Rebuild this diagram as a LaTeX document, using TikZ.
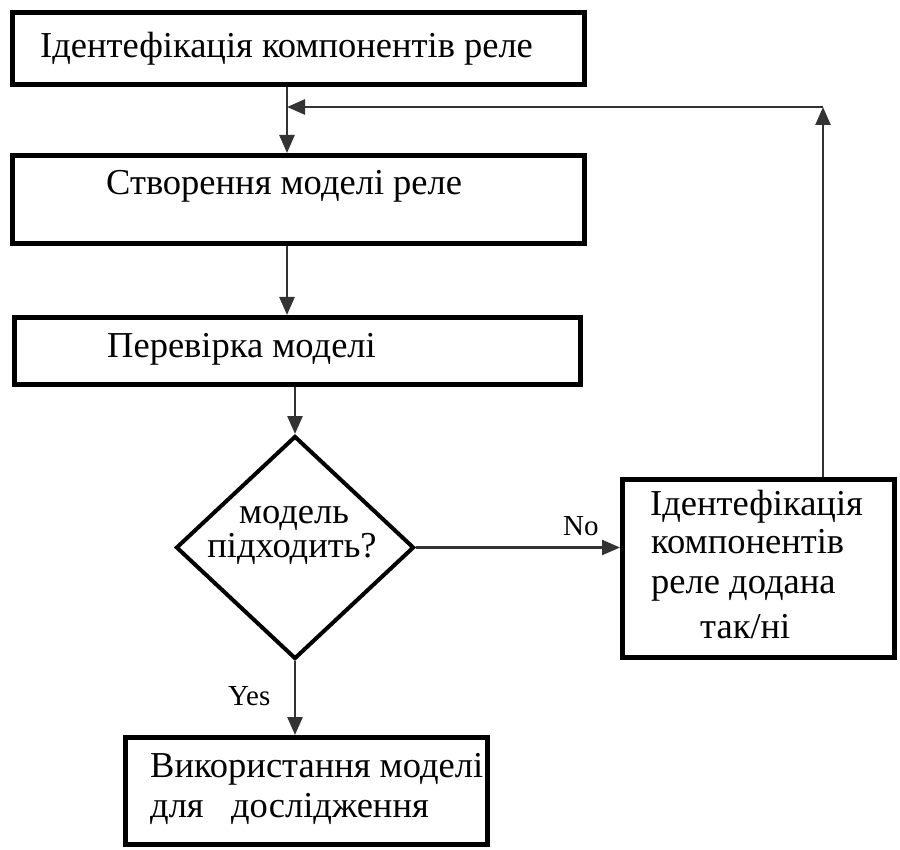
\documentclass[tikz,border=0pt]{standalone}
\usepackage{fontspec}
\setmainfont{Liberation Serif}
\usetikzlibrary{shapes.geometric,arrows.meta}
\tikzset{
  box/.style={draw=black, line width=5pt, rectangle, inner sep=0pt},
  dia/.style={draw=black, line width=4pt, diamond, inner sep=0pt},
  txt/.style={inner sep=0pt, anchor=base west, font=\fontsize{36.5}{40}\selectfont},
  lbl/.style={inner sep=0pt, anchor=base west, font=\fontsize{29}{32}\selectfont},
  conn/.style={draw=black!80, line width=2.5pt},
  arr/.style={conn, -{Triangle[length=18pt,width=15pt]}}
}
\begin{document}
\begin{tikzpicture}[x=1pt,y=-1pt]
\useasboundingbox (0,0) rectangle (900,850);
% boxes
\node[box, minimum width=572, minimum height=72] (b1) at (298.5,48.5) {};
\node[box, minimum width=572, minimum height=88] (b2) at (298.5,199.5) {};
\node[box, minimum width=566, minimum height=67] (b3) at (297.5,351) {};
\node[dia, minimum width=238, minimum height=223] (d) at (295,547.5) {};
\node[box, minimum width=272, minimum height=178] (b5) at (758.5,568.5) {};
\node[box, minimum width=362, minimum height=107] (b6) at (306.5,791) {};
% texts
\node[txt] (t1) at (40,58) {Ідентефікація компонентів реле};
\node[txt] (t2) at (106,195) {Створення моделі реле};
\node[txt] (t3) at (107,358) {Перевірка моделі};
\node[txt, anchor=base] (t4a) at (294,523) {модель};
\node[txt, anchor=base] (t4b) at (292,557) {підходить?};
\node[txt] (t5a) at (650,515) {Ідентефікація};
\node[txt] (t5b) at (651,553) {компонентів};
\node[txt] (t5c) at (651,593) {реле додана};
\node[txt] (t5d) at (700,638) {так/ні};
\node[txt] (t6a) at (150,777) {Використання моделі};
\node[txt] (t6b) at (150,817) {для\hspace{0.75em}дослідження};
\node[lbl] (no) at (563,535) {No};
\node[lbl] (yes) at (228,705) {Yes};
% connectors
\coordinate (j1) at (287,107);
\coordinate (c1) at (823,107);
\draw[conn] (b1.south -| j1) -- (j1);
\draw[arr] (j1) -- (b2.north -| j1);
\draw[arr] (b5.north -| c1) -- (c1);
\draw[arr] (c1) -- (j1);
\draw[arr] (b2.south -| j1) -- (b3.north -| j1);
\draw[arr] (b3.south -| d.north) -- (d.north);
\draw[arr] (d.east) -- (b5.west |- d.east);
\draw[arr] (d.south) -- (b6.north -| d.south);
\end{tikzpicture}
\end{document}
